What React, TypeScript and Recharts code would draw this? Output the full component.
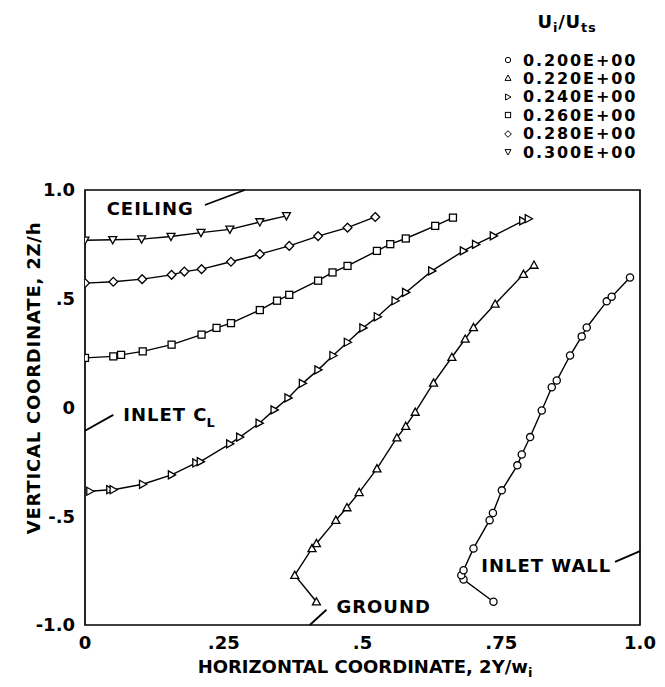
import React from "react";
import {
  ScatterChart,
  Scatter,
  XAxis,
  YAxis,
  ReferenceArea,
  ReferenceLine,
  ReferenceDot,
} from "recharts";

const FONT = "'DejaVu Sans', 'Liberation Sans', Arial, sans-serif";

const xTicks = [0, 0.25, 0.5, 0.75, 1];
const xTickLabels = ["0", ".25", ".5", ".75", "1.0"];
const yTicks = [-1, -0.5, 0, 0.5, 1];
const yTickLabels = ["-1.0", "-.5", "0", ".5", "1.0"];

const ratioLabels = ["0.200E+00", "0.220E+00", "0.240E+00", "0.260E+00", "0.280E+00", "0.300E+00"];
const ratioShapes = ["circle", "triangle", "tright", "square", "diamond", "tdown"];

// Ui/Uts = 0.200 (circles)
const r200X = [0.736, 0.682, 0.678, 0.682, 0.7, 0.729, 0.735, 0.751, 0.779, 0.787, 0.802, 0.823, 0.841, 0.85, 0.874, 0.895, 0.904, 0.94, 0.949, 0.982];
const r200Y = [-0.893, -0.791, -0.771, -0.748, -0.648, -0.518, -0.485, -0.381, -0.266, -0.216, -0.136, -0.014, 0.093, 0.124, 0.239, 0.327, 0.368, 0.488, 0.509, 0.598];

// 0.220 (triangles)
const r220X = [0.417, 0.378, 0.409, 0.417, 0.452, 0.472, 0.494, 0.526, 0.562, 0.578, 0.595, 0.628, 0.661, 0.685, 0.7, 0.739, 0.79, 0.809];
const r220Y = [-0.893, -0.771, -0.648, -0.625, -0.518, -0.46, -0.39, -0.281, -0.139, -0.086, -0.021, 0.113, 0.231, 0.315, 0.368, 0.476, 0.613, 0.655];

// 0.240
const r240X = [0.009, 0.045, 0.051, 0.104, 0.156, 0.2, 0.208, 0.261, 0.279, 0.314, 0.341, 0.366, 0.392, 0.42, 0.447, 0.473, 0.501, 0.527, 0.559, 0.578, 0.625, 0.682, 0.704, 0.736, 0.789, 0.799];
const r240Y = [-0.385, -0.378, -0.378, -0.353, -0.31, -0.255, -0.249, -0.167, -0.136, -0.072, -0.011, 0.044, 0.111, 0.173, 0.239, 0.3, 0.366, 0.417, 0.491, 0.529, 0.628, 0.72, 0.75, 0.789, 0.858, 0.868];

// 0.260 (squares)
const r260X = [0, 0.051, 0.065, 0.104, 0.156, 0.21, 0.237, 0.263, 0.315, 0.346, 0.368, 0.42, 0.446, 0.473, 0.526, 0.55, 0.578, 0.631, 0.663];
const r260Y = [0.228, 0.235, 0.242, 0.258, 0.289, 0.335, 0.366, 0.388, 0.448, 0.491, 0.518, 0.583, 0.621, 0.651, 0.72, 0.751, 0.777, 0.835, 0.873];

// 0.280 (diamonds)
const r280X = [0, 0.051, 0.103, 0.156, 0.179, 0.21, 0.263, 0.315, 0.368, 0.42, 0.473, 0.523];
const r280Y = [0.572, 0.578, 0.59, 0.61, 0.625, 0.636, 0.67, 0.705, 0.743, 0.788, 0.827, 0.876];

// 0.300 (inverted triangles)
const r300X = [0, 0.05, 0.102, 0.155, 0.209, 0.261, 0.315, 0.363];
const r300Y = [0.769, 0.771, 0.774, 0.786, 0.804, 0.819, 0.853, 0.881];

const allX = [r200X, r220X, r240X, r260X, r280X, r300X];
const allY = [r200Y, r220Y, r240Y, r260Y, r280Y, r300Y];

function Marker({ kind, cx, cy, k = 1, sw = 1.3 }: { kind: string; cx: number; cy: number; k?: number; sw?: number }) {
  const p = { fill: "#fff", stroke: "#000", strokeWidth: sw };
  const s = 4 * k;
  if (kind === "circle") return <circle cx={cx} cy={cy} r={3.6 * k} {...p} />;
  if (kind === "square") return <rect x={cx - 3.5 * k} y={cy - 3.5 * k} width={7 * k} height={7 * k} {...p} />;
  let pts = "";
  if (kind === "triangle") pts = `${cx},${cy - s} ${cx + s},${cy + s * 0.8} ${cx - s},${cy + s * 0.8}`;
  if (kind === "tdown") pts = `${cx},${cy + s} ${cx + s},${cy - s * 0.8} ${cx - s},${cy - s * 0.8}`;
  if (kind === "tright") pts = `${cx + s},${cy} ${cx - s * 0.8},${cy - s} ${cx - s * 0.8},${cy + s}`;
  if (kind === "diamond") pts = `${cx},${cy - 1.1 * s} ${cx + 1.1 * s},${cy} ${cx},${cy + 1.1 * s} ${cx - 1.1 * s},${cy}`;
  return <polygon points={pts} {...p} />;
}

const textStyle = { fontFamily: FONT, fontWeight: 700, fontSize: 18, fill: "#000", letterSpacing: 1 };

function AnnoText({ cx, cy, text, sub }: any) {
  return (
    <text x={cx} y={cy} dominantBaseline="central" style={textStyle}>
      {text}
      {sub && (
        <tspan dx={-1} dy={7} style={{ fontSize: 13 }}>
          {sub}
        </tspan>
      )}
    </text>
  );
}

export default function App() {
  const series = allX.map((xs, i) => xs.map((x, j) => ({ x, y: allY[i][j] })));
  const bold = { fontSize: 18, fontWeight: 700, letterSpacing: 0.8, whiteSpace: "nowrap" as const };

  return (
    <div style={{ position: "absolute", left: 0, top: 0, width: 665, height: 687, background: "#fff", fontFamily: FONT }}>
      <ScatterChart width={665} height={687} margin={{ top: 190, right: 25, bottom: 0, left: 0 }}>
        <XAxis
          type="number"
          dataKey="x"
          domain={[0, 1]}
          ticks={xTicks}
          tickFormatter={(v: number) => xTickLabels[xTicks.indexOf(v)]}
          axisLine={false}
          tickLine={false}
          tickMargin={5}
          height={62}
          tick={{ ...textStyle, letterSpacing: 0 }}
          allowDataOverflow
        />
        <YAxis
          type="number"
          dataKey="y"
          domain={[-1, 1]}
          ticks={yTicks}
          tickFormatter={(v: number) => yTickLabels[yTicks.indexOf(v)]}
          axisLine={false}
          tickLine={false}
          tickMargin={4}
          width={85}
          tick={{ ...textStyle, letterSpacing: 0 }}
          allowDataOverflow
        />
        <ReferenceArea x1={0} x2={1} y1={-1} y2={1} fill="none" stroke="#000" strokeWidth={1.7} />
        {series.map((data, i) => (
          <Scatter
            key={ratioLabels[i]}
            data={data}
            line={{ stroke: "#000", strokeWidth: 1.4 }}
            lineType="joint"
            isAnimationActive={false}
            shape={(props: any) => <Marker kind={ratioShapes[i]} cx={props.cx} cy={props.cy} />}
          />
        ))}
        <ReferenceLine segment={[{ x: 0.216, y: 0.931 }, { x: 0.288, y: 1 }]} stroke="#000" strokeWidth={1.8} />
        <ReferenceLine segment={[{ x: 0.051, y: -0.034 }, { x: 0, y: -0.107 }]} stroke="#000" strokeWidth={1.8} />
        <ReferenceLine segment={[{ x: 0.435, y: -0.93 }, { x: 0.405, y: -1 }]} stroke="#000" strokeWidth={1.8} />
        <ReferenceLine segment={[{ x: 0.955, y: -0.71 }, { x: 1, y: -0.66 }]} stroke="#000" strokeWidth={1.8} />
        <ReferenceDot x={0.039} y={0.913} r={0} shape={(p: any) => <AnnoText cx={p.cx} cy={p.cy} text="CEILING" />} />
        <ReferenceDot x={0.069} y={-0.034} r={0} shape={(p: any) => <AnnoText cx={p.cx} cy={p.cy} text="INLET C" sub="L" />} />
        <ReferenceDot x={0.453} y={-0.917} r={0} shape={(p: any) => <AnnoText cx={p.cx} cy={p.cy} text="GROUND" />} />
        <ReferenceDot x={0.714} y={-0.725} r={0} shape={(p: any) => <AnnoText cx={p.cx} cy={p.cy} text="INLET WALL" />} />
      </ScatterChart>

      <div style={{ ...bold, position: "absolute", left: 33, top: 378, transform: "translate(-50%, -50%) rotate(-90deg)" }}>
        VERTICAL COORDINATE, 2Z/h
      </div>
      <div style={{ ...bold, letterSpacing: 0, position: "absolute", left: 365, top: 668, transform: "translate(-50%, -50%)" }}>
        HORIZONTAL COORDINATE, 2Y/w<sub style={{ fontSize: 13 }}>i</sub>
      </div>

      <div style={{ ...bold, position: "absolute", left: 567, top: 23, transform: "translate(-50%, -50%)" }}>
        U<sub style={{ fontSize: 13 }}>i</sub>/U<sub style={{ fontSize: 13 }}>ts</sub>
      </div>
      {ratioLabels.map((label, i) => (
        <div key={label} style={{ position: "absolute", left: 500, top: 60 + i * 18.4 - 10, height: 20, display: "flex", alignItems: "center" }}>
          <svg width={16} height={20}>
            <Marker kind={ratioShapes[i]} cx={8} cy={10} k={0.75} sw={1} />
          </svg>
          <span style={{ marginLeft: 7, fontSize: 16, fontWeight: 700, letterSpacing: 1.9, whiteSpace: "nowrap" }}>{label}</span>
        </div>
      ))}
    </div>
  );
}
